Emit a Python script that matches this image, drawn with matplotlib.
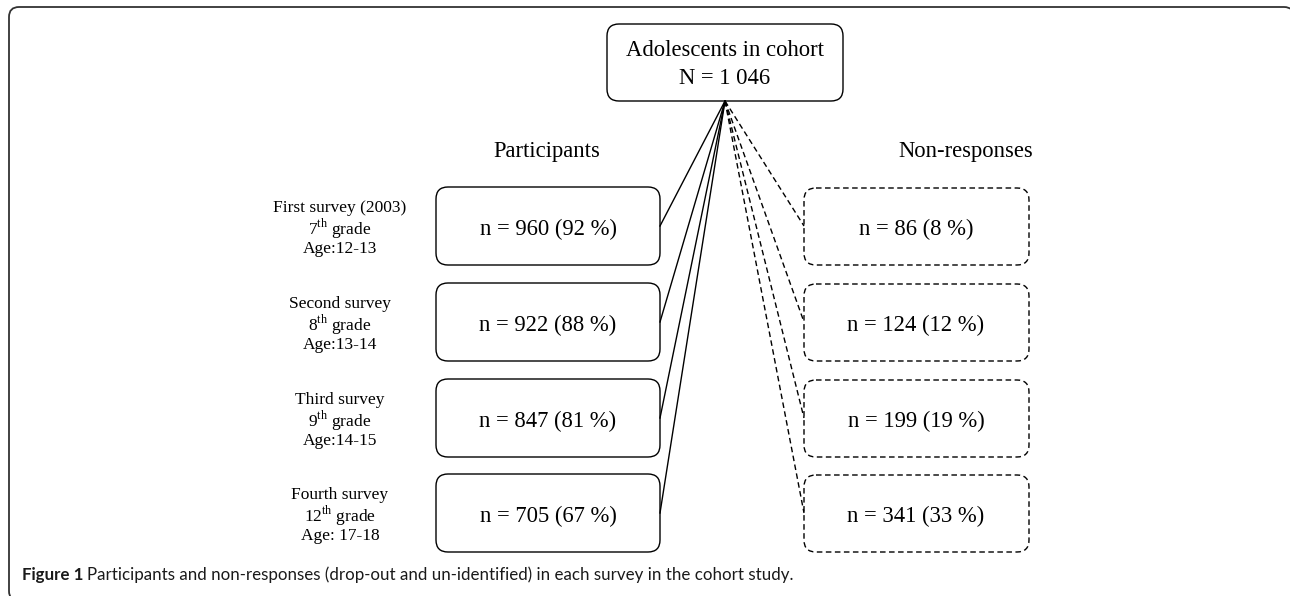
from matplotlib import pyplot as plt
from matplotlib.patches import FancyBboxPatch, PathPatch
from matplotlib.path import Path

plt.rcParams['mathtext.fontset'] = 'custom'
plt.rcParams['mathtext.rm'] = 'Liberation Serif'

# data
total_n = 1046
survey_names = ["First survey (2003)", "Second survey", "Third survey", "Fourth survey"]
grades = ["7", "8", "9", "12"]
ages = ["Age:12-13", "Age:13-14", "Age:14-15", "Age: 17-18"]
participants = [960, 922, 847, 705]
participants_pct = [92, 88, 81, 67]
nonresp = [86, 124, 199, 341]
nonresp_pct = [8, 12, 19, 33]

fig = plt.figure(figsize=(12.9, 5.96), dpi=100)
ax = fig.add_axes([0, 0, 1, 1])
ax.set_xlim(0, 1290)
ax.set_ylim(596, 0)
ax.axis('off')

serif = 'Liberation Serif'
big = 16.3
small = 12.5

def rbox(x0, y0, x1, y1, ls='-', r=12, lw=1.0, color='black'):
    p = FancyBboxPatch((x0, y0), x1 - x0, y1 - y0,
                       boxstyle="round,pad=0,rounding_size=%d" % r,
                       fill=False, ec=color, lw=lw, ls=ls)
    ax.add_patch(p)

# outer frame: only left and top sides fall inside the picture
fl, ft, fr, fb, rr = 9, 7, 1294, 601, 10
verts = [(fl + rr, fb), (fl, fb), (fl, fb - rr),
         (fl, ft + rr), (fl, ft), (fl + rr, ft),
         (fr - rr, ft), (fr, ft), (fr, ft + rr), (fr, ft + 40)]
codes = [Path.MOVETO, Path.CURVE3, Path.CURVE3,
         Path.LINETO, Path.CURVE3, Path.CURVE3,
         Path.LINETO, Path.CURVE3, Path.CURVE3, Path.LINETO]
ax.add_patch(PathPatch(Path(verts, codes), fill=False, ec='#333333', lw=1.3))

# top box
top_x = 725
rbox(607, 24, 843, 101)
ax.text(top_x, 51, "Adolescents in cohort", ha='center', va='center',
        family=serif, fontsize=big)
ax.text(top_x, 79, "N = " + f"{total_n:,}".replace(",", " "), ha='center', va='center',
        family=serif, fontsize=big)

ax.text(547, 152, "Participants", ha='center', va='center', family=serif, fontsize=big)
ax.text(966, 152, "Non-responses", ha='center', va='center', family=serif, fontsize=big)

row_top = [187, 283, 379, 474]
row_h = 78
for i in range(4):
    y0 = row_top[i]
    y1 = y0 + row_h
    yc = (y0 + y1) / 2
    # left labels
    ax.text(340, yc - 18, survey_names[i], ha='center', va='center', family=serif, fontsize=small)
    ax.text(340, yc + 2.5, grades[i] + r"$^{\mathrm{th}}$ grade", ha='center', va='center',
            family=serif, fontsize=small)
    ax.text(340, yc + 23, ages[i], ha='center', va='center', family=serif, fontsize=small)
    # participant box
    rbox(436, y0, 660, y1)
    ax.text(548, yc + 3, f"n = {participants[i]} ({participants_pct[i]} %)", ha='center',
            va='center', family=serif, fontsize=big)
    ax.plot([top_x, 660], [101, yc], color='black', lw=1.0)
    # non-response box
    rbox(804, y0 + 1, 1029, y1, ls=(0, (4, 2.5)))
    ax.text(916, yc + 3, f"n = {nonresp[i]} ({nonresp_pct[i]} %)", ha='center',
            va='center', family=serif, fontsize=big)
    ax.plot([top_x, 804], [101, yc], color='black', lw=1.0, ls=(0, (4, 2.5)))

# caption
cap = ax.text(22, 575, "Figure 1", ha='left', va='center', family='Lato',
              fontsize=12.2, fontweight='bold', color='#1a1a1a')
fig.canvas.draw()
bb = cap.get_window_extent()
x_end = ax.transData.inverted().transform((bb.x1, bb.y0))[0]
ax.text(x_end + 4, 575, "Participants and non-responses (drop-out and un-identified) in each survey in the cohort study.",
        ha='left', va='center', family='Lato', fontsize=12.2, color='#1a1a1a')

fig.savefig("out.png", dpi=100)
